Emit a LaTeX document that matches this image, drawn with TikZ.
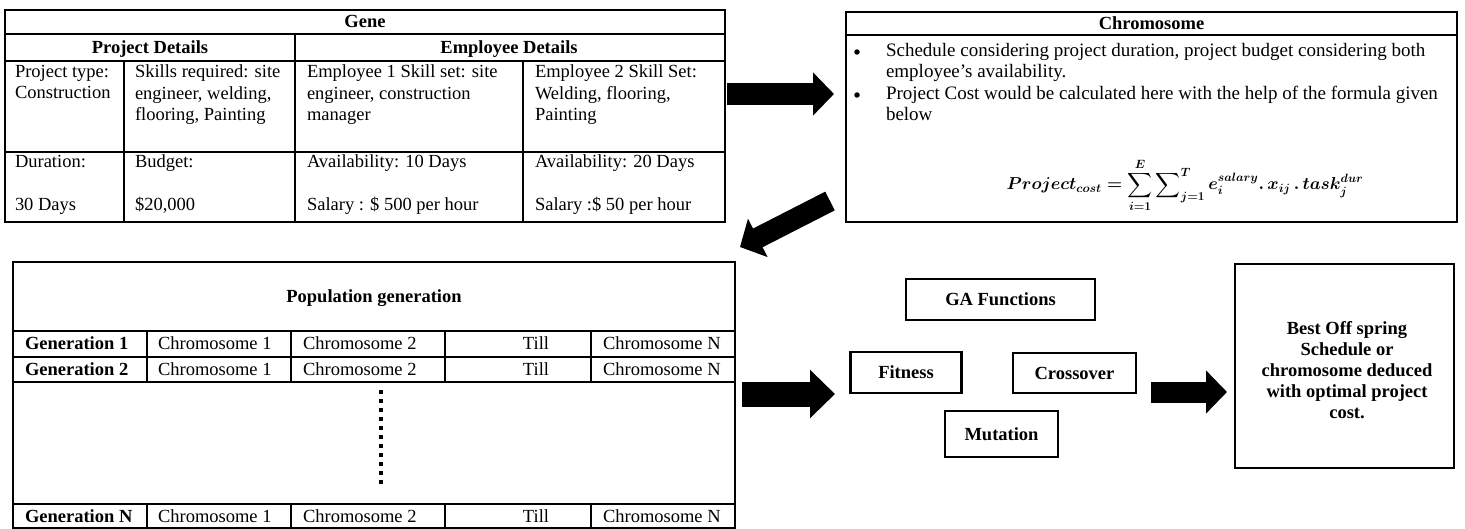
\documentclass[tikz,border=0pt]{standalone}
\usepackage[no-math]{fontspec}
\setmainfont{Liberation Serif}
\usepackage{exscale}
\usetikzlibrary{arrows.meta,calc}

\newsavebox{\costbox}

\tikzset{
  frame/.style={draw, line width=2.4pt, outer sep=0pt, inner sep=0pt},
  rule/.style={line width=2.4pt},
  txt/.style={inner sep=0pt, outer sep=0pt, font=\fontsize{18.5}{21.5}\selectfont},
  btxt/.style={inner sep=0pt, outer sep=0pt, font=\fontsize{18.5}{21.5}\selectfont\bfseries},
  cell/.style={txt, anchor=north west, align=left, execute at begin node=\strut},
  note/.style={cell, font=\fontsize{19}{21.5}\selectfont},
  dot/.style={circle, fill, inner sep=0pt, minimum size=5.5pt},
  word/.style={txt, anchor=base west},
  bword/.style={btxt, anchor=base west},
  head/.style={btxt, anchor=base},
  gabox/.style={frame, btxt},
  blockarrow/.style n args={3}{line width=#1, line cap=butt, -{Triangle[length=#3, width=#2]}},
}

\begin{document}
\begin{tikzpicture}[x=1pt, y=-1pt]
\fill[white] (0,0) rectangle (1465,529);
\useasboundingbox (0,0) rectangle (1465,529);

% the project cost formula, typeset once in bold math
\sbox{\costbox}{\fontsize{17}{20}\selectfont\boldmath
  $\displaystyle Project_{cost}=\sum_{i=1}^{E}\sum\nolimits_{j=1}^{T}e_i^{salary}.\,x_{ij}\,.\,task_j^{dur}$}

% ---------- Gene table ----------
\node[frame, anchor=north west, minimum width=720pt, minimum height=212pt] (gene) at (5,10) {};
\draw[rule] (5,34) -- (725,34);
\draw[rule] (5,61) -- (725,61);
\draw[rule] (5,152) -- (725,152);
\draw[rule] (295,34) -- (295,222);
\draw[rule] (124,61) -- (124,222);
\draw[rule] (523,61) -- (523,222);

\node[head] (geneT) at (365,28) {Gene};
\node[head] (projT) at (150,53.5) {Project Details};
\node[head] (empT) at (509,53.5) {Employee Details};

\node[cell] (g31) at (15,65) {Project type:\\Construction};
\node[cell] (g32) at (135,65) {Skills required: site\\engineer, welding,\\flooring, Painting};
\node[cell] (g33) at (307,65) {Employee 1 Skill set: site\\engineer, construction\\manager};
\node[cell] (g34) at (535,65) {Employee 2 Skill Set:\\Welding, flooring,\\Painting};

\node[cell] (g41) at (15,155) {Duration:\\[21.5pt]30 Days};
\node[cell] (g42) at (135,155) {Budget:\\[21.5pt]\$20,000};
\node[cell] (g43) at (307,155) {Availability: 10 Days\\[21.5pt]Salary : \$ 500 per hour};
\node[cell] (g44) at (535,155) {Availability: 20 Days\\[21.5pt]Salary :\$ 50 per hour};

% ---------- Chromosome box ----------
\node[frame, anchor=north west, minimum width=611pt, minimum height=210pt] (chrom) at (846,12) {};
\draw[rule] (846,35) -- (1457,35);
\node[head] (chromT) at (1151.5,29.5) {Chromosome};
\node[dot] (b1) at (857,52) {};
\node[note] (c1) at (886,43) {Schedule considering project duration, project budget considering both\\employee’s availability.};
\node[dot] (b2) at (857,95) {};
\node[note] (c2) at (886,86) {Project Cost would be calculated here with the help of the formula given\\below};
\node[txt, anchor=base] (formula) at (1185,190) {\usebox{\costbox}};

% ---------- Population table ----------
\node[frame, anchor=north west, minimum width=722pt, minimum height=266pt] (pop) at (13,262) {};
\foreach \yy in {331,357,382,504} \draw[rule] (13,\yy) -- (735,\yy);
\foreach \xx in {147,291,445,591} {
  \draw[rule] (\xx,331) -- (\xx,382);
  \draw[rule] (\xx,504) -- (\xx,528);
}
\node[head] (popT) at (374,303) {Population generation};

\node[bword] (r1a) at (25,350) {Generation 1};
\node[word] (r1b) at (158,350) {Chromosome 1};
\node[word] (r1c) at (303,350) {Chromosome 2};
\node[txt, anchor=base] (r1d) at (536,350) {Till};
\node[word] (r1e) at (603,350) {Chromosome N};

\node[bword] (r2a) at (25,375.5) {Generation 2};
\node[word] (r2b) at (158,375.5) {Chromosome 1};
\node[word] (r2c) at (303,375.5) {Chromosome 2};
\node[txt, anchor=base] (r2d) at (536,375.5) {Till};
\node[word] (r2e) at (603,375.5) {Chromosome N};

\draw[line width=3.5pt, dash pattern=on 4pt off 5pt] (381,390) -- (381,488);

\node[bword] (rNa) at (25,522.5) {Generation N};
\node[word] (rNb) at (158,522.5) {Chromosome 1};
\node[word] (rNc) at (303,522.5) {Chromosome 2};
\node[txt, anchor=base] (rNd) at (536,522.5) {Till};
\node[word] (rNe) at (603,522.5) {Chromosome N};

% ---------- GA functions ----------
\node[gabox, minimum width=189pt, minimum height=41pt] (ga) at (1000.5,299.5) {GA Functions};
\node[gabox, minimum width=111pt, minimum height=41pt] (fit) at (906,372.5) {Fitness};
\node[gabox, minimum width=123pt, minimum height=40pt] (cross) at (1074.5,373) {Crossover};
\node[gabox, minimum width=113pt, minimum height=46pt] (mut) at (1001.5,434) {Mutation};

% ---------- Result ----------
\node[frame, minimum width=219pt, minimum height=204pt] (best) at (1344.5,366) {};
\node[btxt, align=center, font=\fontsize{18.5}{21}\selectfont\bfseries] (bestT) at (1347,370)
  {Best Off spring\\Schedule or\\chromosome deduced\\with optimal project\\cost.};

% ---------- Block arrows ----------
\draw[blockarrow={22pt}{42pt}{21pt}] ([xshift=2pt,yshift=22pt]gene.east) -- ([xshift=-12pt,yshift=23pt]chrom.west);
\draw[blockarrow={21pt}{42pt}{20pt}] ([xshift=-16pt,yshift=21pt]chrom.south west) -- ([xshift=5pt,yshift=15pt]pop.north east);
\draw[blockarrow={25pt}{47pt}{25pt}] ([xshift=7pt,yshift=1pt]pop.east) -- ([xshift=-15.5pt,yshift=-21.5pt]fit.west);
\draw[blockarrow={21pt}{42pt}{21pt}] ([xshift=15pt,yshift=-19pt]cross.east) -- ([xshift=-8pt,yshift=-26pt]best.west);
\end{tikzpicture}
\end{document}
